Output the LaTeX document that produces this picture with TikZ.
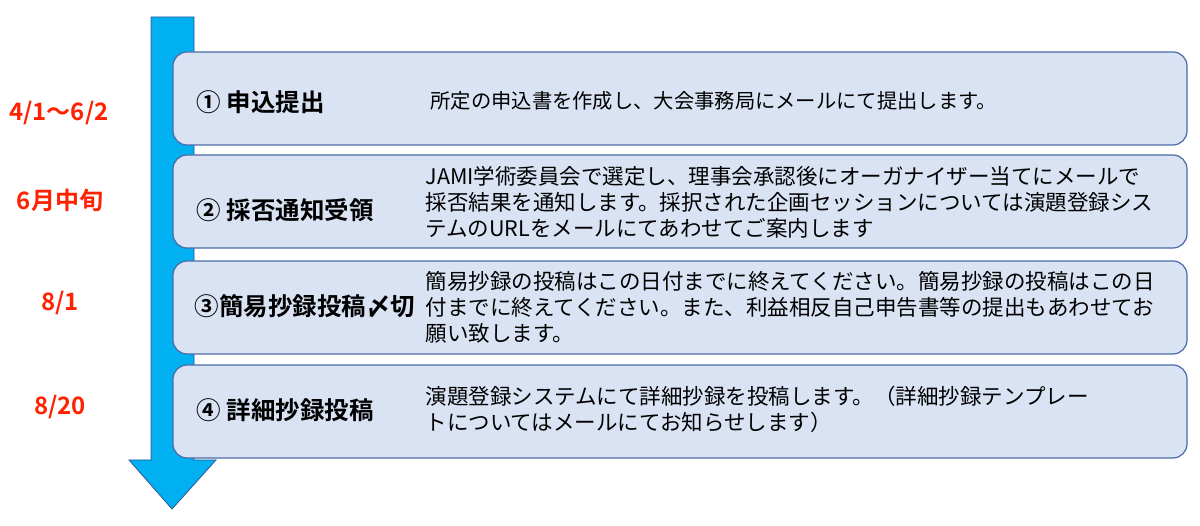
\documentclass[tikz,border=0pt]{standalone}
\usepackage{fontspec}
\setmainfont{Noto Sans CJK JP}
\newfontfamily\jpb{Noto Sans CJK JP Bold}
\definecolor{boxfill}{HTML}{DAE3F3}
\definecolor{boxline}{HTML}{4A6AA8}
\definecolor{arrfill}{HTML}{00B0F0}
\definecolor{arrline}{HTML}{2F5597}
\definecolor{datered}{HTML}{FF2200}
\tikzset{
  stepbox/.style={draw=boxline,line width=1.2pt,fill=boxfill,rounded corners=14pt},
  ttl/.style={anchor=west,font=\jpb\fontsize{24.5}{28}\selectfont},
  body/.style={anchor=west,align=left,font=\fontsize{21.5}{26}\selectfont},
  datel/.style={text=datered,font=\jpb\fontsize{24}{28}\selectfont}
}
\begin{document}
\begin{tikzpicture}[x=1pt,y=-1pt]
\useasboundingbox (0,0) rectangle (1200,526);
\draw[draw=arrline,fill=arrfill,line width=0.8pt] (151,17) -- (194,17) -- (194,460) -- (216,460) -- (172,509) -- (129,460) -- (151,460) -- cycle;
\draw[stepbox] (173,52) rectangle (1187,145);
\draw[stepbox] (173,155) rectangle (1187,248);
\draw[stepbox] (173,261) rectangle (1187,354);
\draw[stepbox] (173,365) rectangle (1187,458);
\node[ttl] (t1) at (193,102) {① 申込提出};
\node[ttl] (t2) at (193,210) {② 採否通知受領};
\node[ttl] (t3) at (191,306) {③簡易抄録投稿〆切};
\node[ttl] (t4) at (193,410) {④ 詳細抄録投稿};
\node[body,font=\fontsize{20.3}{24}\selectfont] (b1) at (427,101) {所定の申込書を作成し、大会事務局にメールにて提出します。};
\node[body] (b2) at (422,202) {JAMI学術委員会で選定し、理事会承認後にオーガナイザー当てにメールで\\採否結果を通知します。採択された企画セッションについては演題登録シス\\テムのURLをメールにてあわせてご案内します};
\node[body] (b3) at (422,307) {簡易抄録の投稿はこの日付までに終えてください。簡易抄録の投稿はこの日\\付までに終えてください。また、利益相反自己申告書等の提出もあわせてお\\願い致します。};
\node[body] (b4) at (422,409) {演題登録システムにて詳細抄録を投稿します。（詳細抄録テンプレー\\トについてはメールにてお知らせします）};
\node[datel] (d1) at (59,113) {4/1〜6/2};
\node[datel] (d2) at (60,200) {6月中旬};
\node[datel] (d3) at (60,303) {8/1};
\node[datel] (d4) at (60,407) {8/20};
\end{tikzpicture}
\end{document}
